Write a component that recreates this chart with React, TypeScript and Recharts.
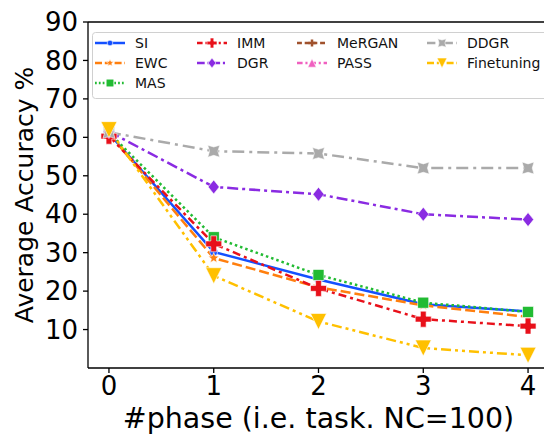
import React from 'react';
import { LineChart, Line, XAxis, YAxis, ReferenceLine } from 'recharts';

const phases = [0, 1, 2, 3, 4];
const xTicks = [0, 1, 2, 3, 4];
const yTicks = [10, 20, 30, 40, 50, 60, 70, 80, 90];

const si = [61, 30.2, 23, 16.6, 14.7];
const ewc = [61, 28.6, 21, 16.3, 13.3];
const mas = [61.2, 34, 24.2, 17, 14.6];
const imm = [60.3, 32.3, 20.7, 12.7, 10.9];
const dgr = [61.5, 47.1, 45.2, 40, 38.6];
const mergan: (number | null)[] = [null, null, null, null, null];
const pass: (number | null)[] = [null, null, null, null, null];
const ddgr = [61.3, 56.4, 55.8, 52, 52];
const finetuning = [62, 24, 12.1, 5.2, 3.3];

const FONT = '"DejaVu Sans", sans-serif';

type Shape = 'circle' | 'star' | 'square' | 'plusFat' | 'diamond' | 'plus' | 'triUp' | 'xFat' | 'triDown';

const seriesList = [
  { key: 'SI', values: si, color: '#1450ff', dash: undefined, shape: 'circle' as Shape, size: 8 },
  { key: 'EWC', values: ewc, color: '#ff7f0e', dash: '10 4', shape: 'star' as Shape, size: 11 },
  { key: 'MAS', values: mas, color: '#22bb33', dash: '2.5 3', shape: 'square' as Shape, size: 11 },
  { key: 'IMM', values: imm, color: '#e8101a', dash: '8 4 3 4', shape: 'plusFat' as Shape, size: 16 },
  { key: 'DGR', values: dgr, color: '#8a2be2', dash: '11 4 3 4', shape: 'diamond' as Shape, size: 14 },
  { key: 'MeRGAN', values: mergan, color: '#a0522d', dash: '7 4', shape: 'plus' as Shape, size: 10 },
  { key: 'PASS', values: pass, color: '#f060c0', dash: '8 4 3 4', shape: 'triUp' as Shape, size: 12 },
  { key: 'DDGR', values: ddgr, color: '#aaaaaa', dash: '12 5 3 5', shape: 'xFat' as Shape, size: 12 },
  { key: 'Finetuning', values: finetuning, color: '#ffc000', dash: '10 4 3 4 3 4', shape: 'triDown' as Shape, size: 16 },
];

const data = phases.map((p, i) => {
  const row: Record<string, number | null> = { phase: p };
  seriesList.forEach((s) => {
    row[s.key] = s.values[i];
  });
  return row;
});

function Marker({ cx, cy, shape, color, size }: { cx: number; cy: number; shape: Shape; color: string; size: number }) {
  const h = size / 2;
  const edge = { stroke: '#ffffff', strokeWidth: 0.6 };
  switch (shape) {
    case 'circle':
      return <circle cx={cx} cy={cy} r={h} fill={color} {...edge} />;
    case 'square':
      return <rect x={cx - h} y={cy - h} width={size} height={size} fill={color} {...edge} />;
    case 'diamond':
      return <polygon points={`${cx},${cy - h} ${cx + h * 0.8},${cy} ${cx},${cy + h} ${cx - h * 0.8},${cy}`} fill={color} {...edge} />;
    case 'triUp':
      return <polygon points={`${cx},${cy - h} ${cx + h},${cy + h} ${cx - h},${cy + h}`} fill={color} {...edge} />;
    case 'triDown':
      return <polygon points={`${cx - h},${cy - h} ${cx + h},${cy - h} ${cx},${cy + h}`} fill={color} {...edge} />;
    case 'plusFat': {
      const t = h * 0.36;
      const pts = [
        [-t, -h], [t, -h], [t, -t], [h, -t], [h, t], [t, t], [t, h], [-t, h], [-t, t], [-h, t], [-h, -t], [-t, -t],
      ].map(([a, b]) => `${cx + a},${cy + b}`).join(' ');
      return <polygon points={pts} fill={color} {...edge} />;
    }
    case 'plus':
      return (
        <g stroke={color} strokeWidth={2.5}>
          <line x1={cx - h} y1={cy} x2={cx + h} y2={cy} />
          <line x1={cx} y1={cy - h} x2={cx} y2={cy + h} />
        </g>
      );
    case 'xFat': {
      const t = h * 0.7;
      const pts = [
        [-h, -h], [0, -t], [h, -h], [t, 0], [h, h], [0, t], [-h, h], [-t, 0],
      ].map(([a, b]) => `${cx + a},${cy + b}`).join(' ');
      return <polygon points={pts} fill={color} {...edge} />;
    }
    case 'star': {
      const pts: string[] = [];
      for (let k = 0; k < 10; k++) {
        const r = k % 2 === 0 ? h : h * 0.45;
        const a = -Math.PI / 2 + (k * Math.PI) / 5;
        pts.push(`${cx + r * Math.cos(a)},${cy + r * Math.sin(a)}`);
      }
      return <polygon points={pts.join(' ')} fill={color} {...edge} />;
    }
  }
  return null;
}

const legendCols = [
  { x: 3, items: ['SI', 'EWC', 'MAS'] },
  { x: 105, items: ['IMM', 'DGR'] },
  { x: 205, items: ['MeRGAN', 'PASS'] },
  { x: 335, items: ['DDGR', 'Finetuning'] },
];

function LegendBox() {
  return (
    <svg
      width={470}
      height={67}
      style={{ position: 'absolute', left: 92, top: 32 }}
    >
      <rect x={0.5} y={0.5} width={480} height={66} rx={3} fill="rgba(255,255,255,0.85)" stroke="#d0d0d0" />
      {legendCols.map((col) =>
        col.items.map((name, r) => {
          const s = seriesList.find((q) => q.key === name)!;
          const y = 11 + r * 20;
          return (
            <g key={name}>
              <line x1={col.x} y1={y} x2={col.x + 30} y2={y} stroke={s.color} strokeWidth={2.5} strokeDasharray={s.dash ? s.dash.split(' ').map((v) => Number(v) * 0.7).join(' ') : undefined} />
              <Marker cx={col.x + 15} cy={y} shape={s.shape} color={s.color} size={Math.min(s.size * 0.7, 10)} />
              <text x={col.x + 40} y={y + 5} fontSize={14} fontFamily={FONT} fill="#111">
                {name}
              </text>
            </g>
          );
        })
      )}
    </svg>
  );
}

function YLabel(props: any) {
  const vb = props.viewBox || {};
  const cy = (vb.y ?? 22) + (vb.height ?? 346) / 2;
  return (
    <text
      x={24}
      y={cy}
      transform={`rotate(-90, 24, ${cy})`}
      textAnchor="middle"
      dominantBaseline="central"
      fontSize={25}
      fontFamily={FONT}
      fill="#000"
    >
      Average Accuracy %
    </text>
  );
}

export default function App() {
  return (
    <div style={{ position: 'fixed', left: 0, top: 0, width: 544, height: 435, overflow: 'hidden', background: '#fff' }}>
      <LineChart width={560} height={435} data={data} margin={{ top: 22, right: 11, left: 0, bottom: 0 }}>
        <XAxis
          dataKey="phase"
          type="number"
          domain={[-0.2, 4.2]}
          ticks={xTicks}
          tickSize={5}
          tickMargin={4}
          height={67}
          axisLine={{ stroke: '#000', strokeWidth: 1.3 }}
          tickLine={{ stroke: '#000', strokeWidth: 1.3 }}
          tick={{ fontSize: 26, fill: '#000', fontFamily: FONT }}
          label={{ value: '#phase (i.e. task. NC=100)', position: 'insideBottom', offset: 7, fontSize: 28.5, fill: '#000', fontFamily: FONT }}
        />
        <YAxis
          type="number"
          domain={[0, 90]}
          ticks={yTicks}
          tickSize={5}
          tickMargin={5}
          width={88}
          axisLine={{ stroke: '#000', strokeWidth: 1.3 }}
          tickLine={{ stroke: '#000', strokeWidth: 1.3 }}
          tick={{ fontSize: 26, fill: '#000', fontFamily: FONT }}
          label={<YLabel />}
        />
        <ReferenceLine y={90} stroke="#000" strokeWidth={1.3} />
        {seriesList.map((s) => (
          <Line
            key={s.key}
            dataKey={s.key}
            stroke={s.color}
            strokeWidth={2.5}
            strokeDasharray={s.dash}
            isAnimationActive={false}
            connectNulls={false}
            dot={(p: any) =>
              p.cx == null || p.cy == null || p.value == null ? (
                <g key={`${s.key}-${p.index}`} />
              ) : (
                <g key={`${s.key}-${p.index}`}>
                  <Marker cx={p.cx} cy={p.cy} shape={s.shape} color={s.color} size={s.size} />
                </g>
              )
            }
            activeDot={false}
          />
        ))}
      </LineChart>
      <LegendBox />
    </div>
  );
}
